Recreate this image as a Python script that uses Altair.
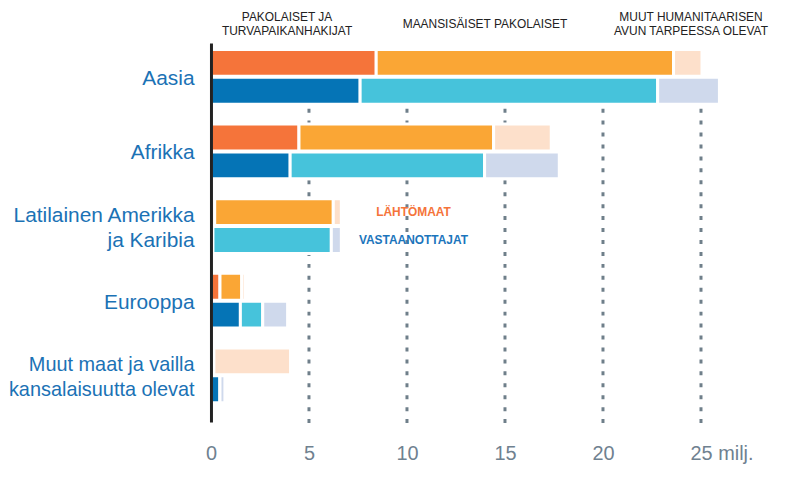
import altair as alt
import pandas as pd

regions = ["Aasia", "Afrikka", "Latilainen Amerikka|ja Karibia", "Eurooppa",
           "Muut maat ja vailla|kansalaisuutta olevat"]
sides = ["Lähtömaat", "Vastaanottajat"]
categories = ["Pakolaiset ja turvapaikanhakijat", "Maansisäiset pakolaiset",
              "Muut humanitaarisen avun tarpeessa olevat"]

# millions
origin_refugees = [8.43, 4.49, 0.19, 0.46, 0.15]
origin_idp = [15.17, 9.93, 6.05, 1.11, 0.0]
origin_other = [1.45, 2.94, 0.41, 0.18, 3.91]
dest_refugees = [7.61, 4.04, 0.10, 1.50, 0.46]
dest_idp = [15.18, 9.92, 6.04, 1.14, 0.0]
dest_other = [3.15, 3.81, 0.51, 1.27, 0.25]

header_two_line = ["PAKOLAISET JA\nTURVAPAIKANHAKIJAT", "MUUT HUMANITAARISEN\nAVUN TARPEESSA OLEVAT"]
header_two_line_x = [3.88, 24.49]
header_one_line = ["MAANSISÄISET PAKOLAISET"]
header_one_line_x = [13.98]
side_labels = ["LÄHTÖMAAT", "VASTAANOTTAJAT"]
side_label_x = 10.33
x_ticks = [0, 5, 10, 15, 20, 25]
grid_values = [5, 10, 15, 20, 25]

colors = ["#F5743A", "#FAA635", "#FDE0CB", "#0574B6", "#46C3DB", "#CFD9EC"]
FONT = "Liberation Sans"

rows = []
series = {"Lähtömaat": [origin_refugees, origin_idp, origin_other],
          "Vastaanottajat": [dest_refugees, dest_idp, dest_other]}
for side, vals in series.items():
    for i, reg in enumerate(regions):
        start = 0.0
        for c, arr in enumerate(vals):
            end = start + arr[i]
            rows.append({"region": reg, "side": side, "category": categories[c],
                         "key": f"{side}|{c}", "start": start, "end": end})
            start = end
bars_df = pd.DataFrame(rows)
key_domain = [f"{s}|{c}" for s in sides for c in range(3)]

xscale = alt.Scale(domain=[0, 27], nice=False, zero=False)
yscale = alt.Scale(domain=regions, paddingInner=0.2667, paddingOuter=0.1733, align=0.25)
yoff_scale = alt.Scale(domain=sides, paddingInner=0.036, paddingOuter=0)

grid = alt.Chart(pd.DataFrame({"v": grid_values})).mark_rule(
    color="#6f7f8a", strokeWidth=3, strokeDash=[4, 8]
).encode(
    x=alt.X("v:Q", scale=xscale),
    y=alt.value(66), y2=alt.value(383)
)

bars = alt.Chart(bars_df).mark_bar(stroke="white", strokeWidth=3).encode(
    x=alt.X("start:Q", scale=xscale, title=None,
            axis=alt.Axis(values=x_ticks, domain=False, ticks=False, grid=False,
                          labelFontSize=20, labelColor="#6f8190", labelFont=FONT,
                          labelPadding=22,
                          labelExpr="datum.value == 25 ? '25 milj.' : datum.label",
                          labelAlign={"condition": {"test": "datum.value == 25", "value": "left"}, "value": "center"},
                          labelOffset={"condition": {"test": "datum.value == 25", "value": -11}, "value": 0})),
    x2="end:Q",
    y=alt.Y("region:N", scale=yscale, sort=regions, title=None,
            axis=alt.Axis(domain=True, domainColor="#222222", domainWidth=3, ticks=False,
                          grid=False, labelColor="#1b72b5", labelFont=FONT,
                          labelFontSize={"condition": {"test": "indexof(datum.label, 'kansalaisuutta') >= 0", "value": 20}, "value": 21},
                          labelPadding=17, labelLineHeight=25, labelLimit=300,
                          labelExpr="split(datum.label, '|')",
                          labelOffset={"condition": {"test": "indexof(datum.label, '|') >= 0", "value": -10}, "value": 2},
                          zindex=1)),
    yOffset=alt.YOffset("side:N", scale=yoff_scale, sort=sides),
    color=alt.Color("key:N", scale=alt.Scale(domain=key_domain, range=colors), legend=None),
)

headers2 = alt.Chart(pd.DataFrame({"t": header_two_line, "x": header_two_line_x})).mark_text(
    font=FONT, fontSize=12, color="#222222", lineBreak="\n", lineHeight=14,
    baseline="middle", align="center"
).encode(x=alt.X("x:Q", scale=xscale), y=alt.value(-26), text="t:N")
headers1 = alt.Chart(pd.DataFrame({"t": header_one_line, "x": header_one_line_x})).mark_text(
    font=FONT, fontSize=12, color="#222222", baseline="middle", align="center"
).encode(x=alt.X("x:Q", scale=xscale), y=alt.value(-19), text="t:N")

lab_df = pd.DataFrame({"region": [regions[2]] * 2, "side": sides, "t": side_labels,
                       "x": [side_label_x] * 2})
lab_origin = alt.Chart(lab_df[lab_df.side == sides[0]]).mark_text(
    font=FONT, fontSize=12, fontWeight="bold", color="#F5743A", align="center", baseline="middle"
).encode(x=alt.X("x:Q", scale=xscale), y=alt.Y("region:N", scale=yscale, sort=regions),
         yOffset=alt.YOffset("side:N", scale=yoff_scale, sort=sides), text="t:N")
lab_dest = alt.Chart(lab_df[lab_df.side == sides[1]]).mark_text(
    font=FONT, fontSize=12, fontWeight="bold", color="#1B75BC", align="center", baseline="middle"
).encode(x=alt.X("x:Q", scale=xscale), y=alt.Y("region:N", scale=yscale, sort=regions),
         yOffset=alt.YOffset("side:N", scale=yoff_scale, sort=sides), text="t:N")

chart = alt.layer(grid, bars, headers2, headers1, lab_origin, lab_dest).properties(
    width=531.9, height=381,
    autosize=alt.AutoSizeParams(type="none"),
    padding={"left": 204, "top": 34, "right": 38, "bottom": 50},
).configure(background="white").configure_view(stroke=None)

chart.save("out.html", embed_options={"renderer": "svg", "actions": False})
